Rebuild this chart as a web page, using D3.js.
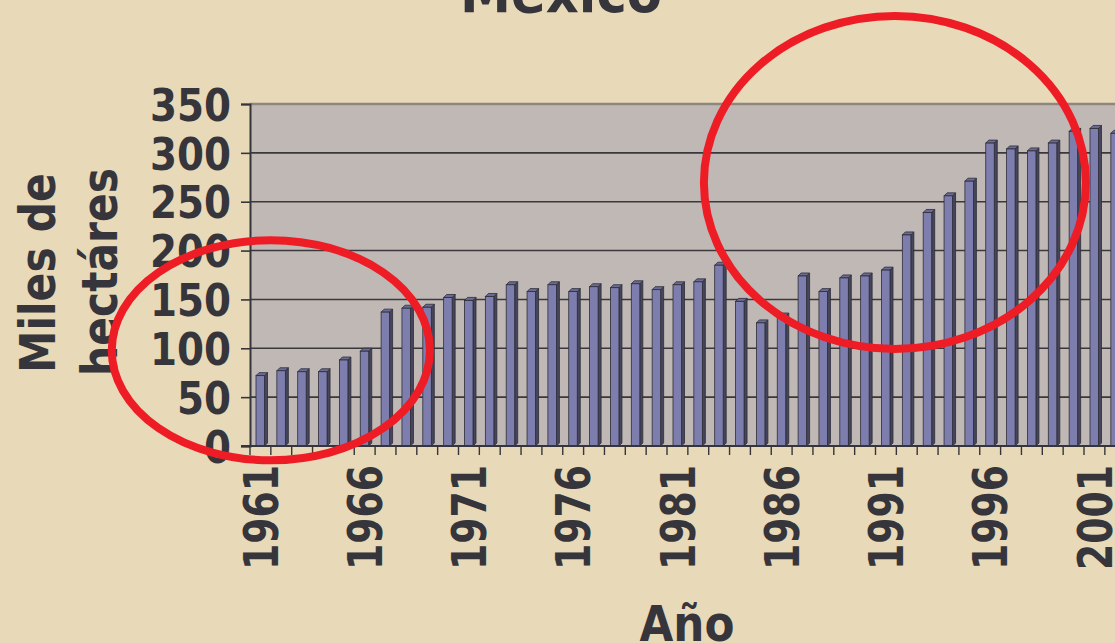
<!DOCTYPE html>
<html>
<head>
<meta charset="utf-8">
<script src="https://cdn.jsdelivr.net/npm/d3@7/dist/d3.min.js"></script>
<style>
  html, body { margin: 0; padding: 0; background: #e8d9b8; overflow: hidden; }
  svg { display: block; }
  text { font-family: "DejaVu Sans", Verdana, sans-serif; font-weight: bold; fill: #35353b; }
</style>
</head>
<body>
<svg id="chart"></svg>
<script>
// superficie (miles de hectáreas) por año
var years = d3.range(1961, 2003);
var values = [72, 77, 76, 76, 88, 97, 137, 141, 142, 152, 149, 153, 165, 158,
              165, 158, 163, 162, 166, 160, 165, 168, 185, 148, 126, 133, 174,
              158, 172, 174, 180, 216, 239, 256, 271, 310, 304, 302, 310, 322,
              325, 320];
var yTicks = [0, 50, 100, 150, 200, 250, 300, 350];
var xTickYears = [1961, 1966, 1971, 1976, 1981, 1986, 1991, 1996, 2001];

// red annotation rings, in data units: [center year, center value, radius in years, radius in value]
var rings = [
  [1961.5, 98, 7.63, 112.6],
  [1991.43, 269.7, 9.16, 170.4]
];

var W = 1115, H = 643;
var svg = d3.select('#chart').attr('width', W).attr('height', H);

var pLeft = 250, pTop = 104, pBottom = 446, bw = 20.85;

var x = d3.scaleBand().domain(years).range([pLeft, pLeft + years.length * bw]).padding(0);
var y = d3.scaleLinear().domain([0, 350]).range([pBottom, pTop]);
// continuous position of a (fractional) year for the annotations
var xc = d3.scaleLinear().domain([1961, 1962]).range([pLeft + bw / 2, pLeft + bw * 1.5]);

// plot wall
svg.append('rect')
  .attr('x', pLeft).attr('y', y(350))
  .attr('width', W - pLeft).attr('height', pBottom - y(350))
  .style('fill', '#c0b8b5');
svg.append('line')
  .attr('x1', pLeft).attr('x2', W).attr('y1', y(350)).attr('y2', y(350))
  .style('stroke', '#8e8780').style('stroke-width', 2.5);

// gridlines
svg.append('g').selectAll('line')
  .data(yTicks.filter(function(d) { return d > 0 && d < 350; }))
  .enter().append('line')
  .attr('x1', pLeft).attr('x2', W)
  .attr('y1', function(d) { return y(d); }).attr('y2', function(d) { return y(d); })
  .style('stroke', '#3a383c').style('stroke-width', 1.6);

// 3d columns
var fw = 8.5, dp = 3, off = 6;
var bars = svg.append('g').selectAll('g')
  .data(years.map(function(yr, i) { return [yr, values[i]]; }))
  .enter().append('g');

bars.append('polygon')
  .attr('points', function(d) {
    var fx = x(d[0]) + off + fw, ty = y(d[1]);
    return [[fx, ty], [fx + dp, ty - dp], [fx + dp, pBottom - dp], [fx, pBottom]].join(' ');
  })
  .style('fill', '#45455c').style('stroke', '#2c2c36').style('stroke-width', 0.8);

bars.append('polygon')
  .attr('points', function(d) {
    var fx = x(d[0]) + off, ty = y(d[1]);
    return [[fx, ty], [fx + dp, ty - dp], [fx + fw + dp, ty - dp], [fx + fw, ty]].join(' ');
  })
  .style('fill', '#6b6b98').style('stroke', '#2c2c36').style('stroke-width', 0.8);

bars.append('rect')
  .attr('x', function(d) { return x(d[0]) + off; })
  .attr('y', function(d) { return y(d[1]); })
  .attr('width', fw)
  .attr('height', function(d) { return pBottom - y(d[1]); })
  .style('fill', '#7e7eae').style('stroke', '#2c2c36').style('stroke-width', 0.8);

// axes
var yAxis = d3.axisLeft(y).tickValues(yTicks).tickSize(9).tickPadding(9);
var gy = svg.append('g').attr('transform', 'translate(' + pLeft + ',0)').call(yAxis);
gy.select('.domain').style('stroke', '#35353b').style('stroke-width', 2);
gy.selectAll('.tick line').style('stroke', '#35353b').style('stroke-width', 1.6);
gy.selectAll('.tick text')
  .style('font-size', '45px')
  .style('font-family', '"DejaVu Sans", Verdana, sans-serif')
  .style('fill', '#35353b')
  .attr('dy', '0.36em')
  .attr('x', -19)
  .attr('textLength', function(d) { return String(d).length * 27; })
  .attr('lengthAdjust', 'spacingAndGlyphs');

var gx = svg.append('g').attr('transform', 'translate(0,' + pBottom + ')');
gx.append('line').attr('x1', pLeft - 9).attr('x2', W).attr('y1', 0).attr('y2', 0)
  .style('stroke', '#35353b').style('stroke-width', 2);
gx.selectAll('line.tk')
  .data(years)
  .enter().append('line').attr('class', 'tk')
  .attr('x1', function(d) { return x(d); }).attr('x2', function(d) { return x(d); })
  .attr('y1', 0).attr('y2', 9)
  .style('stroke', '#35353b').style('stroke-width', 1.4);
gx.selectAll('text')
  .data(xTickYears)
  .enter().append('text')
  .attr('transform', function(d) {
    return 'translate(' + (x(d) + x.bandwidth() / 2) + ',19) rotate(-90)';
  })
  .attr('text-anchor', 'end')
  .attr('dy', '0.36em')
  .attr('textLength', 105)
  .attr('lengthAdjust', 'spacingAndGlyphs')
  .style('font-size', '48px')
  .text(function(d) { return d; });

// titles
svg.append('text')
  .attr('x', 561).attr('y', 12)
  .attr('text-anchor', 'middle')
  .attr('textLength', 202).attr('lengthAdjust', 'spacingAndGlyphs')
  .style('font-size', '56px')
  .text('México');

svg.append('text')
  .attr('x', 687).attr('y', 641)
  .attr('text-anchor', 'middle')
  .attr('textLength', 95).attr('lengthAdjust', 'spacingAndGlyphs')
  .style('font-size', '50px')
  .text('Año');

svg.append('text')
  .attr('transform', 'translate(55,273) rotate(-90)')
  .attr('text-anchor', 'middle')
  .attr('textLength', 200).attr('lengthAdjust', 'spacingAndGlyphs')
  .style('font-size', '50px')
  .text('Miles de');

svg.append('text')
  .attr('transform', 'translate(117,272) rotate(-90)')
  .attr('text-anchor', 'middle')
  .attr('textLength', 208).attr('lengthAdjust', 'spacingAndGlyphs')
  .style('font-size', '50px')
  .text('hectáres');

// red rings
svg.append('g').selectAll('ellipse')
  .data(rings)
  .enter().append('ellipse')
  .attr('cx', function(d) { return xc(d[0]); })
  .attr('cy', function(d) { return y(d[1]); })
  .attr('rx', function(d) { return xc(d[0] + d[2]) - xc(d[0]); })
  .attr('ry', function(d) { return y(0) - y(d[3]); })
  .style('fill', 'none')
  .style('stroke', '#ee1c25')
  .style('stroke-width', 8);
</script>
</body>
</html>
